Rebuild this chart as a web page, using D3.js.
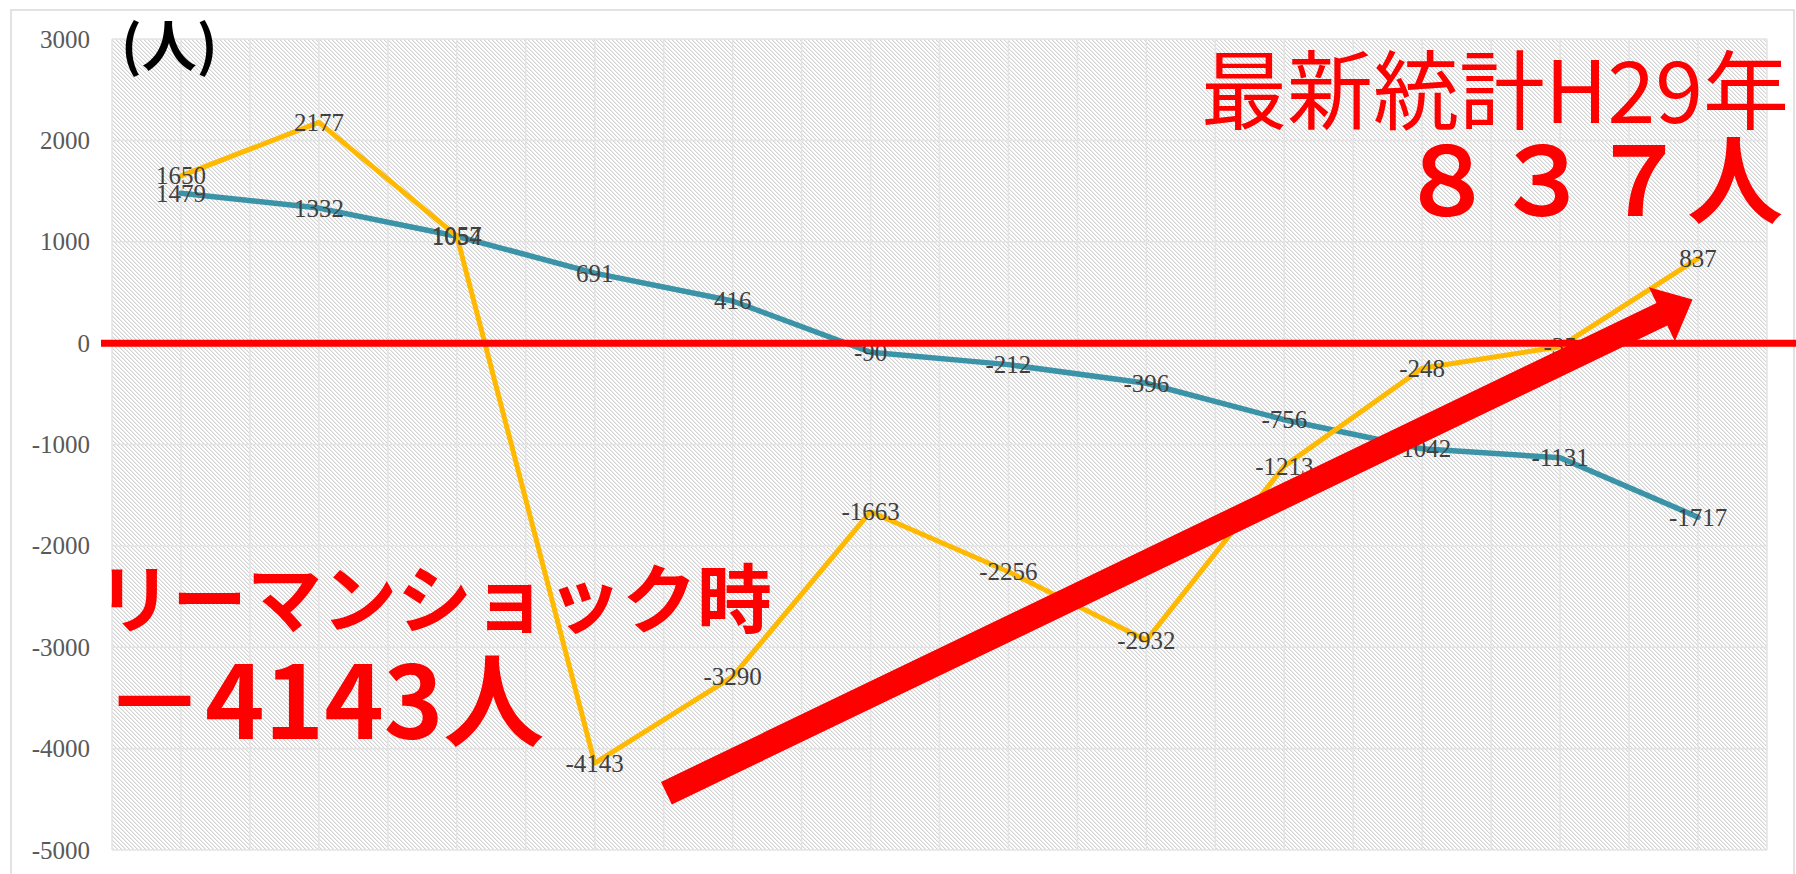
<!DOCTYPE html>
<html><head><meta charset="utf-8">
<script src="https://cdn.jsdelivr.net/npm/d3@7"></script>
<style>body{margin:0;background:#fff;} svg{display:block}</style>
</head><body><svg id="chart" width="1796" height="874"></svg>
<script>
// ---- data ----
const categories = ["H18","H19","H20","H21","H22","H23","H24","H25","H26","H27","H28","H29"];
const yellowValues = [1650, 2177, 1057, -4143, -3290, -1663, -2256, -2932, -1213, -248, -35, 837];
const blueValues   = [1479, 1332, 1054, 691, 416, -90, -212, -396, -756, -1042, -1131, -1717];
const yTicks = [3000, 2000, 1000, 0, -1000, -2000, -3000, -4000, -5000];
const unitLabel = "(人)";
const noteTop1 = "最新統計H29年";
const noteTop2 = "８３７人";
const noteLeft1 = "リーマンショック時";
const noteLeft2 = "－4143人";
// arrow annotation in data space: [category index, value]
const arrowFrom = [3.52, -4440];
const arrowTo = [10.96, 430];

// ---- layout ----
const svg = d3.select("#chart");
const W = 1796, H = 874;
const plot = {l:112, r:1767, t:39, b:850};
const serif = "'Liberation Serif','Times New Roman',serif";
const cjk = "'Noto Sans CJK JP','Noto Sans',sans-serif";

const x = d3.scaleBand().domain(categories).range([plot.l, plot.r]);
const bw = x.bandwidth();
const xc = c => x(c) + bw/2;
const xi = i => plot.l + (i + 0.5) * bw;
const y = d3.scaleLinear().domain([-5000, 3000]).range([plot.b, plot.t]);

// outer border
svg.append("rect").attr("x",11).attr("y",10).attr("width",1783).attr("height",H)
  .attr("fill","#fff").attr("stroke","#d9d9d9").attr("stroke-width",1.5);

// hatch pattern
const defs = svg.append("defs");
const pat = defs.append("pattern").attr("id","hatch").attr("patternUnits","userSpaceOnUse")
  .attr("width",4).attr("height",4);
pat.append("rect").attr("width",4).attr("height",4).attr("fill","#ffffff");
for (let i=0;i<4;i++){
  pat.append("rect").attr("x",i).attr("y",i).attr("width",1).attr("height",1).attr("fill","#d2d2d2");
  pat.append("rect").attr("x",(i+1)%4).attr("y",i).attr("width",1).attr("height",1).attr("fill","#ededed");
}
svg.append("rect").attr("x",plot.l).attr("y",plot.t).attr("width",plot.r-plot.l).attr("height",plot.b-plot.t)
  .attr("fill","url(#hatch)");

// gridlines
const grid = svg.append("g").attr("stroke","#e3e3e3").attr("stroke-width",1.5);
yTicks.forEach(v => grid.append("line").attr("x1",plot.l).attr("x2",plot.r).attr("y1",y(v)).attr("y2",y(v)));
const vx = [];
categories.forEach(c => { vx.push(x(c)); vx.push(xc(c)); });
vx.push(plot.r);
vx.forEach(px => grid.append("line").attr("x1",px).attr("x2",px).attr("y1",plot.t).attr("y2",plot.b));

// y axis
const yAxis = svg.append("g").attr("transform",`translate(${plot.l},0)`)
  .call(d3.axisLeft(y).tickValues(yTicks).tickSize(0).tickPadding(22).tickFormat(d => String(d)));
yAxis.attr("font-family", null).attr("font-size", null);
yAxis.select(".domain").remove();
yAxis.selectAll("text").style("font-family",serif).style("font-size","25px").attr("fill","#595959");

// lines
const line = vals => d3.line().x((d,i)=>xc(categories[i])).y(d=>y(d))(vals);
svg.append("path").attr("d",line(blueValues)).attr("fill","none").attr("stroke","#3b93a7")
  .attr("stroke-width",5.5).attr("stroke-linejoin","round").attr("stroke-linecap","round");
svg.append("path").attr("d",line(yellowValues)).attr("fill","none").attr("stroke","#ffb900")
  .attr("stroke-width",5).attr("stroke-linejoin","round").attr("stroke-linecap","round");

// data labels
function labels(vals){
  svg.append("g").selectAll("text").data(vals).join("text")
    .attr("x",(d,i)=>xc(categories[i])).attr("y",d=>y(d))
    .attr("text-anchor","middle").attr("dominant-baseline","central")
    .style("font-family",serif).style("font-size","25px").attr("fill","#404040")
    .text(d=>String(d));
}
labels(blueValues);
labels(yellowValues);

// red zero line
svg.append("line").attr("x1",101).attr("x2",W).attr("y1",y(0)).attr("y2",y(0))
  .attr("stroke","#ff0000").attr("stroke-width",7);

// arrow
(function(){
  const tx = xi(arrowFrom[0]), ty = y(arrowFrom[1]);
  const px = xi(arrowTo[0]), py = y(arrowTo[1]);
  const dx = px-tx, dy = py-ty, L = Math.hypot(dx,dy);
  const ux = dx/L, uy = dy/L, nx = -uy, ny = ux;
  const sw = 12.5, hw = 30, hl = 34;
  const bx = px - ux*hl, by = py - uy*hl;
  const pts = [
    [tx+nx*sw, ty+ny*sw],[bx+nx*sw, by+ny*sw],[bx+nx*hw, by+ny*hw],[px,py],
    [bx-nx*hw, by-ny*hw],[bx-nx*sw, by-ny*sw],[tx-nx*sw, ty-ny*sw]
  ];
  svg.append("polygon").attr("points",pts.map(p=>p.join(",")).join(" ")).attr("fill","#ff0000");
})();

// annotation texts
svg.append("text").attr("x",121).attr("y",66).style("font-family",cjk).attr("font-weight",700)
  .style("font-size","55px").attr("fill","#000").text(unitLabel);
svg.append("text").attr("x",1201).attr("y",123).style("font-family",cjk).attr("font-weight",400)
  .style("font-size","86px").attr("fill","#ff0000").text(noteTop1);
svg.append("text").attr("x",1399).attr("y",216).style("font-family",cjk).attr("font-weight",700)
  .style("font-size","96px").attr("fill","#ff0000").text(noteTop2);
svg.append("text").attr("x",97).attr("y",627).style("font-family",cjk).attr("font-weight",700)
  .style("font-size","75px").attr("fill","#ff0000").text(noteLeft1);
svg.append("text").attr("x",104).attr("y",739).style("font-family",cjk).attr("font-weight",700)
  .style("font-size","101px").attr("fill","#ff0000").text(noteLeft2);
</script></body></html>
